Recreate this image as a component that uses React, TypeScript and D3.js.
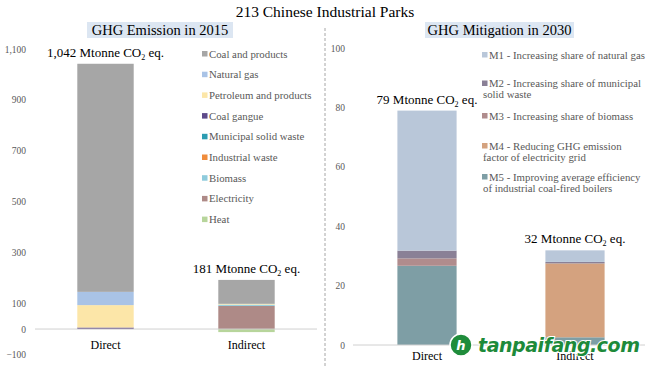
import React from "react";
import * as d3 from "d3";

const categories = ["Direct", "Indirect"];

// GHG emission 2015, legend order (top of legend first)
const sourceKeys = [
  "Coal and products",
  "Natural gas",
  "Petroleum and products",
  "Coal gangue",
  "Municipal solid waste",
  "Industrial waste",
  "Biomass",
  "Electricity",
  "Heat",
];
const sourceColors = ["#a6a6a6", "#a9c3e6", "#fce6a8", "#5e4a8a", "#2c9cb1", "#f08c3c", "#8ecbdc", "#ae8a87", "#b7d59b"];
const directEmission = [896, 52, 88, 6, 0, 0, 0, 0, 0];
const indirectEmission = [94, 0, 3, 0, 0, 0, 5, 91, -12];
const emissionTotals = ["1,042", "181"];
const emissionTicks = [1100, 900, 700, 500, 300, 100, 0, -100];

// GHG mitigation 2030
const measureKeys = ["M1", "M2", "M3", "M4", "M5"];
const measureLabels = [
  ["M1 - Increasing share of natural gas"],
  ["M2 - Increasing share of municipal", "solid waste"],
  ["M3 - Increasing share of biomass"],
  ["M4 - Reducing GHG emission", "factor of electricity grid"],
  ["M5 - Improving average efficiency", "of industrial coal-fired boilers"],
];
const measureColors = ["#b9c7d9", "#8a8096", "#b08c8d", "#d4a27f", "#7e9ea5"];
const directMitigation = [47.2, 2.6, 2.5, 0, 26.7];
const indirectMitigation = [3.9, 0.5, 0, 24.9, 2.6];
const mitigationTotals = ["79", "32"];
const mitigationTicks = [0, 20, 40, 60, 80, 100];

const serif = "Liberation Serif, serif";
const grey = "#595959";

const rowsOf = (keys: string[], a: number[], b: number[]) =>
  categories.map((c, i) => {
    const row: any = {cat: c};
    keys.forEach((k, j) => (row[k] = i === 0 ? a[j] : b[j]));
    return row;
  });

const Co2Label = ({x, y, num}: {x: number; y: number; num: string}) => (
  <text x={x} y={y} textAnchor="middle" fontFamily={serif} fontSize={13} fill="#000">
    {num} Mtonne CO<tspan fontSize={8} dy={3}>2</tspan>
    <tspan dy={-3}> eq.</tspan>
  </text>
);

export default function App() {
  const W = 650, H = 366;

  // left panel
  const xL = d3.scaleBand().domain(categories).range([35, 317]).paddingInner(0.6).paddingOuter(0.3);
  const yL = d3.scaleLinear().domain([-100, 1100]).range([354.5, 49]);
  const stackL = d3
    .stack()
    .keys([...sourceKeys].reverse())
    .offset(d3.stackOffsetDiverging)(rowsOf(sourceKeys, directEmission, indirectEmission));

  // right panel
  const xR = d3.scaleBand().domain(categories).range([353, 649]).paddingInner(0.6).paddingOuter(0.3);
  const yR = d3.scaleLinear().domain([0, 100]).range([345, 48.3]);
  const stackR = d3
    .stack()
    .keys([...measureKeys].reverse())
    .offset(d3.stackOffsetDiverging)(rowsOf(measureKeys, directMitigation, indirectMitigation));

  const colorL = d3.scaleOrdinal<string, string>().domain(sourceKeys).range(sourceColors);
  const colorR = d3.scaleOrdinal<string, string>().domain(measureKeys).range(measureColors);

  const topL = categories.map((_, i) => d3.sum((i ? indirectEmission : directEmission).filter(v => v > 0)));
  const topR = categories.map((_, i) => d3.sum(i ? indirectMitigation : directMitigation));

  const rightLegendY = [55, 83.5, 116, 146, 177];

  return (
    <svg width={W} height={H} style={{position: "absolute", left: 0, top: 0, background: "#fff"}}>
      <rect width={W} height={H} fill="#fff" />
      <text x={325} y={17} textAnchor="middle" fontFamily={serif} fontSize={15.5} fill="#000">
        213 Chinese Industrial Parks
      </text>

      <line x1={325} x2={325} y1={28} y2={H} stroke="#a6a6a6" strokeWidth={1} strokeDasharray="3,2" />

      {/* panel titles */}
      <rect x={87} y={22} width={146} height={16} fill="#dce6f2" />
      <text x={160} y={34.5} textAnchor="middle" fontFamily={serif} fontSize={14.5} fill="#000">
        GHG Emission in 2015
      </text>
      <rect x={425} y={22} width={149} height={16} fill="#dce6f2" />
      <text x={499.5} y={34.5} textAnchor="middle" fontFamily={serif} fontSize={14.5} fill="#000">
        GHG Mitigation in 2030
      </text>

      {/* left axis */}
      {emissionTicks.map(t => (
        <text key={t} x={26} y={yL(t) + 3.5} textAnchor="end" fontFamily={serif} fontSize={9.5} fill={grey}>
          {d3.format(",")(t)}
        </text>
      ))}
      {stackL.map(s => (
        <g key={s.key} fill={colorL(s.key)}>
          {s.map((d: any, i) => (
            <rect
              key={i}
              x={xL(d.data.cat)}
              width={xL.bandwidth()}
              y={yL(Math.max(d[0], d[1]))}
              height={Math.abs(yL(d[0]) - yL(d[1]))}
            />
          ))}
        </g>
      ))}
      <line x1={35} x2={317} y1={yL(0)} y2={yL(0)} stroke="#d0d0d0" strokeWidth={1} />
      {categories.map(c => (
        <text key={c} x={xL(c)! + xL.bandwidth() / 2} y={349} textAnchor="middle" fontFamily={serif} fontSize={12} fill="#000">
          {c}
        </text>
      ))}
      {categories.map((c, i) => (
        <Co2Label key={c} x={xL(c)! + xL.bandwidth() / 2} y={yL(topL[i]) - 7} num={emissionTotals[i]} />
      ))}
      {sourceKeys.map((k, i) => (
        <g key={k} transform={`translate(202,${54 + i * 20.7})`}>
          <rect x={0} y={-3} width={5.5} height={5.5} fill={sourceColors[i]} />
          <text x={7} y={3.5} fontFamily={serif} fontSize={10.8} fill={grey}>
            {k}
          </text>
        </g>
      ))}

      {/* right axis */}
      {mitigationTicks.map(t => (
        <text key={t} x={345} y={yR(t) + 3.5} textAnchor="end" fontFamily={serif} fontSize={9.5} fill={grey}>
          {t}
        </text>
      ))}
      {stackR.map(s => (
        <g key={s.key} fill={colorR(s.key)}>
          {s.map((d: any, i) => (
            <rect
              key={i}
              x={xR(d.data.cat)}
              width={xR.bandwidth()}
              y={yR(Math.max(d[0], d[1]))}
              height={Math.abs(yR(d[0]) - yR(d[1]))}
            />
          ))}
        </g>
      ))}
      <line x1={353} x2={645} y1={yR(0)} y2={yR(0)} stroke="#d0d0d0" strokeWidth={1} />
      {categories.map(c => (
        <text key={c} x={xR(c)! + xR.bandwidth() / 2} y={360} textAnchor="middle" fontFamily={serif} fontSize={12} fill="#000">
          {c}
        </text>
      ))}
      {categories.map((c, i) => (
        <Co2Label key={c} x={xR(c)! + xR.bandwidth() / 2} y={yR(topR[i]) - 7} num={mitigationTotals[i]} />
      ))}
      {measureKeys.map((k, i) => (
        <g key={k} transform={`translate(482,${rightLegendY[i]})`}>
          <rect x={0} y={-3} width={5.5} height={5.5} fill={measureColors[i]} />
          {measureLabels[i].map((line, j) => (
            <text key={j} x={j === 0 ? 7 : 1} y={3.5 + j * 11.3} fontFamily={serif} fontSize={10.8} fill={grey}>
              {line}
            </text>
          ))}
        </g>
      ))}

      {/* watermark */}
      <g>
        <circle cx={461} cy={345} r={11} fill="#1f8c3b" stroke="#fff" strokeWidth={1.5} />
        <text x={461} y={350} textAnchor="middle" fontFamily="DejaVu Sans, sans-serif" fontWeight="bold" fontStyle="italic" fontSize={13} fill="#fff">
          h
        </text>
        <text
          x={478}
          y={352}
          fontFamily="DejaVu Sans, sans-serif"
          fontWeight="bold"
          fontStyle="italic"
          fontSize={19}
          fill="#1d8a3a"
          stroke="#fff"
          strokeWidth={2}
          paintOrder="stroke"
          textLength={162}
        >
          tanpaifang.com
        </text>
      </g>
    </svg>
  );
}
